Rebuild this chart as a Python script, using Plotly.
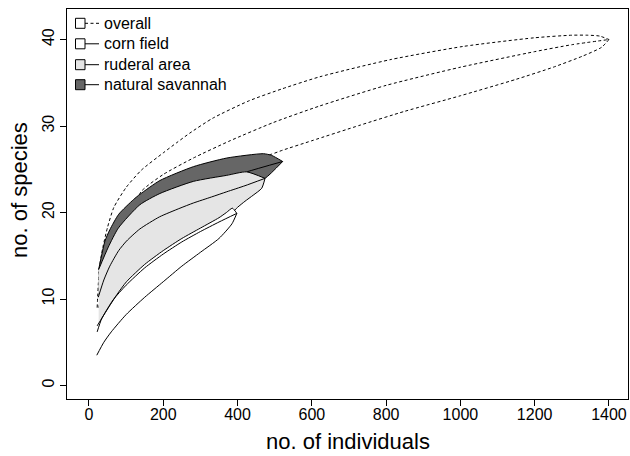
import plotly.graph_objects as go

# ---------------- data ----------------
# overall (dashed)
ov_up_x = [22, 28, 37, 50, 67, 100, 141, 200, 237, 272, 333, 430, 520, 622, 814, 1007, 1199, 1300, 1343, 1375, 1400]
ov_up_y = [9.0, 13.6, 15.9, 18.3, 20.6, 22.9, 24.9, 26.9, 28.1, 29.2, 30.9, 32.9, 34.3, 35.7, 37.7, 39.2, 40.2, 40.5, 40.5, 40.4, 40.0]
ov_mn_x = [26, 50, 80, 110, 142, 200, 281, 380, 496, 620, 800, 1000, 1200, 1300, 1400]
ov_mn_y = [11.0, 15.0, 17.7, 20.0, 22.5, 24.4, 26.3, 28.3, 30.4, 32.3, 34.7, 36.8, 38.6, 39.4, 40.0]
ov_lo_x = [26, 50, 100, 150, 200, 280, 370, 430, 470, 492, 521, 600, 730, 850, 1000, 1150, 1250, 1330, 1380, 1400]
ov_lo_y = [9.0, 13.0, 16.5, 19.0, 20.8, 22.8, 24.5, 25.5, 26.5, 26.75, 27.2, 28.3, 30.1, 31.7, 33.5, 35.4, 36.8, 38.1, 39.1, 40.0]

# natural savannah
sv_up_x = [26, 43, 56, 80, 120, 137, 191, 281, 371, 470, 492, 521.5]
sv_up_y = [13.4, 16.7, 18.0, 19.8, 21.5, 22.1, 23.7, 25.3, 26.3, 26.8, 26.6, 25.9]
sv_mn_x = [26, 56, 80, 137, 191, 281, 371, 424.6, 521.5]
sv_mn_y = [13.0, 15.7, 17.8, 20.5, 21.8, 23.2, 23.9, 24.7, 25.9]
sv_lo_x = [26, 52, 80, 137, 190, 280, 370, 430, 474, 521.5]
sv_lo_y = [10.5, 12.7, 14.5, 17.0, 18.6, 20.5, 22.0, 23.2, 23.95, 25.9]

# ruderal area
ru_up_x = [26, 52, 79, 137, 191, 281, 371, 424, 474]
ru_up_y = [13.4, 16.0, 18.2, 20.9, 22.2, 23.6, 24.3, 24.7, 23.95]
ru_mn_x = [25, 40, 56, 80, 101, 137, 190, 245, 281, 330, 371, 420, 474]
ru_mn_y = [10.2, 12.2, 13.8, 15.6, 16.7, 18.1, 19.5, 20.5, 21.1, 21.8, 22.4, 23.1, 23.95]
ru_lo_x = [26, 100, 200, 300, 350, 384, 400, 420, 442, 465, 474]
ru_lo_y = [6.5, 11.0, 14.6, 17.3, 18.6, 19.9, 20.6, 21.3, 22.0, 22.8, 23.95]

# corn field
cf_up_x = [22, 48, 75, 101, 150, 200, 250, 300, 350, 370, 386, 398]
cf_up_y = [6.9, 8.7, 10.5, 12.0, 14.0, 15.6, 17.0, 18.2, 19.4, 20.0, 20.5, 19.9]
cf_mn_x = [22, 34, 65, 100, 150, 200, 250, 300, 350, 398]
cf_mn_y = [6.2, 7.7, 9.9, 11.6, 13.6, 15.2, 16.6, 17.8, 18.9, 19.9]
cf_lo_x = [21, 40, 60, 100, 150, 200, 250, 300, 350, 385, 398]
cf_lo_y = [3.5, 5.0, 6.2, 8.2, 10.2, 12.0, 13.8, 15.4, 17.0, 18.7, 19.9]

x_ticks = [0, 200, 400, 600, 800, 1000, 1200, 1400]
y_ticks = [0, 10, 20, 30, 40]
legend_labels = ["overall", "corn field", "ruderal area", "natural savannah"]

# ---------------- styling ----------------
W, H = 630, 456
ML, MR, MT, MB = 67, 2, 9, 57
PW, PH = W - ML - MR, H - MT - MB
FONT = "Liberation Sans, Arial, Helvetica, sans-serif"
DARK = "#666666"
LIGHT = "#E5E5E5"
DASH = "3px,2.5px"
SHAPE = "spline"
SMOOTH = 0.6


def px2paper(px, py):
    return (px - ML) / PW, (H - MB - py) / PH


fig = go.Figure()


def band(ux, uy, mx, my, lx, ly, fill, dash):
    fx = list(ux) + list(reversed(lx))
    fy = list(uy) + list(reversed(ly))
    fig.add_trace(go.Scatter(x=fx, y=fy, mode="lines", fill="toself", fillcolor=fill,
                             line=dict(width=0, shape=SHAPE, smoothing=SMOOTH),
                             hoverinfo="skip", showlegend=False))
    for xs, ys in ((ux, uy), (mx, my), (lx, ly)):
        fig.add_trace(go.Scatter(x=xs, y=ys, mode="lines",
                                 line=dict(color="black", width=1, dash=dash,
                                           shape=SHAPE, smoothing=SMOOTH),
                                 hoverinfo="skip", showlegend=False))


band(ov_up_x, ov_up_y, ov_mn_x, ov_mn_y, ov_lo_x, ov_lo_y, "white", DASH)
band(sv_up_x, sv_up_y, sv_mn_x, sv_mn_y, sv_lo_x, sv_lo_y, DARK, "solid")
band(ru_up_x, ru_up_y, ru_mn_x, ru_mn_y, ru_lo_x, ru_lo_y, LIGHT, "solid")
band(cf_up_x, cf_up_y, cf_mn_x, cf_mn_y, cf_lo_x, cf_lo_y, "white", "solid")

# ---------------- legend (drawn manually) ----------------
shapes = []
annotations = []
leg_fill = ["white", "white", LIGHT, DARK]
leg_dash = [DASH, "solid", "solid", "solid"]
centers = [23.3, 43.8, 64.7, 84.7]
for lab, fc, ds, cy in zip(legend_labels, leg_fill, leg_dash, centers):
    x0, y0 = px2paper(75.5, cy - 5)
    x1, y1 = px2paper(85, cy + 5)
    shapes.append(dict(type="rect", xref="paper", yref="paper", x0=x0, x1=x1, y0=y1, y1=y0,
                       fillcolor=fc, line=dict(color="black", width=1)))
    lx0, ly = px2paper(85, cy)
    lx1, _ = px2paper(99, cy)
    shapes.append(dict(type="line", xref="paper", yref="paper", x0=lx0, x1=lx1, y0=ly, y1=ly,
                       line=dict(color="black", width=1, dash=ds)))
    tx, ty = px2paper(102, cy)
    annotations.append(dict(xref="paper", yref="paper", x=tx, y=ty, text=lab, showarrow=False,
                            xanchor="left", yanchor="middle",
                            font=dict(family=FONT, size=16, color="black")))

# axis titles
ax, ay = px2paper(348, 441)
annotations.append(dict(xref="paper", yref="paper", x=ax, y=ay, text="no. of individuals",
                        showarrow=False, xanchor="center", yanchor="middle",
                        font=dict(family=FONT, size=22, color="black")))
bx, by = px2paper(19, 190)
annotations.append(dict(xref="paper", yref="paper", x=bx, y=by, text="no. of species",
                        showarrow=False, xanchor="center", yanchor="middle", textangle=-90,
                        font=dict(family=FONT, size=22, color="black")))

fig.update_layout(
    width=W, height=H,
    margin=dict(l=ML, r=MR, t=MT, b=MB, pad=0, autoexpand=False),
    paper_bgcolor="white", plot_bgcolor="white",
    showlegend=False,
    shapes=shapes, annotations=annotations,
    xaxis=dict(range=[-59.2, 1451.3], tickmode="array", tickvals=x_ticks,
               ticktext=[str(v) for v in x_ticks], automargin=False,
               showgrid=False, zeroline=False, showline=True, mirror=True,
               linecolor="black", linewidth=1, ticks="outside", ticklen=6,
               tickcolor="black", tickwidth=1, ticklabelstandoff=-5,
               tickfont=dict(family=FONT, size=16, color="black")),
    yaxis=dict(range=[-1.56, 43.53], tickmode="array", tickvals=y_ticks,
               ticktext=[str(v) for v in y_ticks], tickangle=-90, automargin=False,
               showgrid=False, zeroline=False, showline=True, mirror=True,
               linecolor="black", linewidth=1, ticks="outside", ticklen=6,
               tickcolor="black", tickwidth=1,
               tickfont=dict(family=FONT, size=16, color="black")),
)

fig.write_html("out.html", config={"displayModeBar": False},
               post_script="document.body.style.margin='0px';document.body.style.overflow='hidden';")
